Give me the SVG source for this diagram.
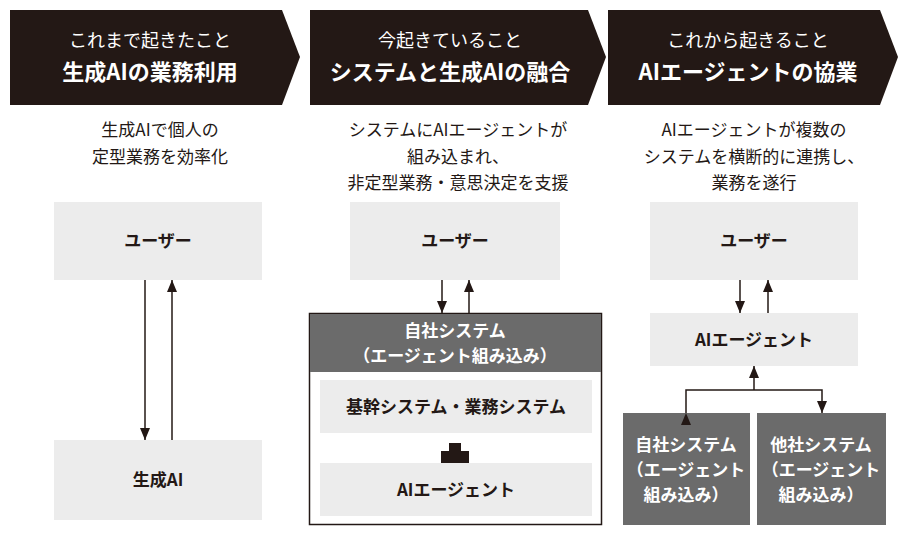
<svg xmlns="http://www.w3.org/2000/svg" width="924" height="542" viewBox="0 0 924 542">
<style>
text{font-family:"Noto Sans CJK JP","Noto Sans",sans-serif;text-anchor:middle}
.hd{fill:#231815}
.h1{fill:#fff;font-size:18px}
.h2{fill:#fff;font-size:22px;font-weight:bold}
.d{fill:#231815;font-size:17px}
.lb{fill:#ececec}
.dk{fill:#6b6b6b}
.t{fill:#231815;font-size:17px;font-weight:bold}
.w{fill:#fff;font-size:17px;font-weight:bold}
.c{stroke:#231815;stroke-width:1.5;fill:none}
</style>
<defs><marker id="a" markerWidth="12" markerHeight="10" refX="12" refY="5" orient="auto" markerUnits="userSpaceOnUse"><path d="M0,0L12,5L0,10z" fill="#231815"/></marker></defs>
<rect width="924" height="542" fill="#fff"/>
<g id="h1"><path class="hd" d="M10,10H282L300,57L282,105H10z"/><text class="h1" x="150" y="47">これまで起きたこと</text><text class="h2" x="150" y="80">生成AIの業務利用</text></g>
<g id="h2"><path class="hd" d="M310,10H588L606,57L588,105H310z"/><text class="h1" x="450" y="47">今起きていること</text><text class="h2" x="450" y="80">システムと生成AIの融合</text></g>
<g id="h3"><path class="hd" d="M608,10H880L898,57L880,105H608z"/><text class="h1" x="748" y="47">これから起きること</text><text class="h2" x="748" y="80">AIエージェントの協業</text></g>
<g id="d1"><text class="d" x="160" y="136">生成AIで個人の</text><text class="d" x="160" y="163">定型業務を効率化</text></g>
<g id="d2"><text class="d" x="458" y="136">システムにAIエージェントが</text><text class="d" x="458" y="163">組み込まれ、</text><text class="d" x="458" y="189">非定型業務・意思決定を支援</text></g>
<g id="d3"><text class="d" x="754" y="136">AIエージェントが複数の</text><text class="d" x="754" y="163">システムを横断的に連携し、</text><text class="d" x="754" y="189">業務を遂行</text></g>
<g id="u1"><rect class="lb" x="54" y="202" width="208" height="78"/><text class="t" x="158" y="247">ユーザー</text></g>
<g id="g1"><rect class="lb" x="54" y="440" width="208" height="80"/><text class="t" x="158" y="486">生成AI</text></g>
<g id="u2"><rect class="lb" x="350" y="202" width="210" height="78"/><text class="t" x="455" y="247">ユーザー</text></g>
<g id="s2"><rect x="309.5" y="313.5" width="292" height="211" fill="#fff" stroke="#231815" stroke-width="1.5"/><rect class="dk" x="310" y="314" width="291" height="58"/><text class="w" x="455" y="337">自社システム</text><text class="w" x="455" y="362">（エージェント組み込み）</text></g>
<g id="k2"><rect class="lb" x="320" y="380" width="272" height="53"/><text class="t" x="456" y="413">基幹システム・業務システム</text></g>
<g id="p2"><path d="M449,443h12v8h8v12h-8v8h-12v-8h-8v-12h8z" fill="#231815"/></g>
<g id="a2"><rect class="lb" x="320" y="463" width="272" height="53"/><text class="t" x="456" y="496">AIエージェント</text></g>
<g id="u3"><rect class="lb" x="650" y="202" width="208" height="78"/><text class="t" x="754" y="247">ユーザー</text></g>
<g id="a3"><rect class="lb" x="650" y="313" width="208" height="53"/><text class="t" x="754" y="346">AIエージェント</text></g>
<g id="b3"><rect class="dk" x="623" y="413" width="127" height="112"/><text class="w" x="686" y="451">自社システム</text><text class="w" x="686" y="476">（エージェント</text><text class="w" x="686" y="501">組み込み）</text></g>
<g id="c3"><rect class="dk" x="757" y="413" width="129" height="112"/><text class="w" x="821" y="451">他社システム</text><text class="w" x="821" y="476">（エージェント</text><text class="w" x="821" y="501">組み込み）</text></g>
<g id="connectors">
<line class="c" x1="145" y1="280" x2="145" y2="440" marker-end="url(#a)"/>
<line class="c" x1="172" y1="440" x2="172" y2="280" marker-end="url(#a)"/>
<line class="c" x1="442" y1="280" x2="442" y2="313" marker-end="url(#a)"/>
<line class="c" x1="469" y1="313" x2="469" y2="280" marker-end="url(#a)"/>
<line class="c" x1="740" y1="280" x2="740" y2="313" marker-end="url(#a)"/>
<line class="c" x1="768" y1="313" x2="768" y2="280" marker-end="url(#a)"/>
<line class="c" x1="754" y1="390" x2="754" y2="366" marker-end="url(#a)"/>
<path class="c" d="M686,413V390H822V413" marker-start="url(#a)" marker-end="url(#a)"/>
</g>
</svg>
